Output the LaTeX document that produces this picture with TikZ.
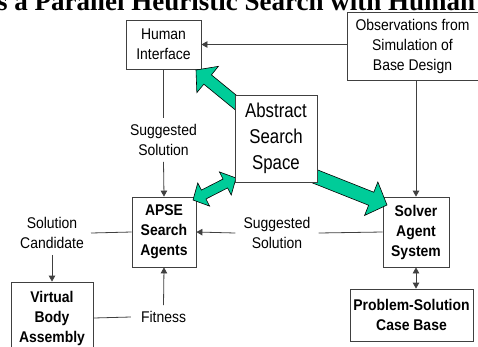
\documentclass[tikz,border=0pt]{standalone}
\usepackage{fontspec}
\setmainfont{Liberation Sans}[FakeStretch=0.9]
\newfontfamily\titlefont{Liberation Serif}
\newfontfamily\bigfont{Liberation Sans}[FakeStretch=0.84]
\usetikzlibrary{calc,arrows.meta}
\definecolor{gfill}{RGB}{0,204,153}
\definecolor{lnc}{RGB}{64,64,64}
\newcommand\greenarrow[5]{%
  \coordinate (#1-h) at ($(#2)!#5!(#1)$);
  \path[garrow] ($(#1)!#3!90:(#2)$) -- ($(#1-h)!#3!90:(#2)$) -- ($(#1-h)!#4!90:(#2)$) -- (#2)
    -- ($(#1-h)!#4!-90:(#2)$) -- ($(#1-h)!#3!-90:(#2)$) -- ($(#1)!#3!-90:(#2)$) -- cycle;}
\newcommand\greendouble[5]{%
  \coordinate (#1-h) at ($(#1)!#5!(#2)$);
  \coordinate (#2-h) at ($(#2)!#5!(#1)$);
  \path[garrow] (#1) -- ($(#1-h)!#4!90:(#2)$) -- ($(#1-h)!#3!90:(#2)$) -- ($(#2-h)!#3!-90:(#1)$)
    -- ($(#2-h)!#4!-90:(#1)$) -- (#2) -- ($(#2-h)!#4!90:(#1)$) -- ($(#2-h)!#3!90:(#1)$)
    -- ($(#1-h)!#3!-90:(#2)$) -- ($(#1-h)!#4!-90:(#2)$) -- cycle;}
\begin{document}
\begin{tikzpicture}[x=1pt,y=-1pt,
  box/.style={draw=lnc, line width=0.8pt, fill=white, align=center, inner sep=0pt,
    font=\fontsize{15.5}{20}\selectfont},
  bbox/.style={box, font=\fontsize{15.5}{20}\selectfont\bfseries},
  lbl/.style={align=center, inner sep=6pt, font=\fontsize{15.5}{20}\selectfont},
  conn/.style={draw=lnc, line width=0.8pt},
  arr/.style={conn, -{Triangle[length=6pt,width=6.5pt]}},
  darr/.style={conn, {Triangle[length=6pt,width=6.5pt]}-{Triangle[length=6pt,width=6.5pt]}},
  garrow/.style={fill=gfill, draw=black, line width=0.6pt, line join=miter}]
\fill[white] (0,0) rectangle (478,346);
\useasboundingbox (0,0) rectangle (478,346);
\clip (0,0) rectangle (478,346);

\node[anchor=base west, inner sep=0pt, font=\titlefont\bfseries\fontsize{27}{30}\selectfont] (title) at (-3,10.5) {s a Parallel Heuristic Search with Human};

\node[box, minimum width=75pt, minimum height=49pt] (hi) at (163.5,44.5) {Human\\Interface};
\node[box, minimum width=131pt, minimum height=68pt] (obs) at (412.5,46) {Observations from\\Simulation of\\Base Design};
\node[bbox, minimum width=64pt, minimum height=70pt] (apse) at (164,232) {APSE\\Search\\Agents};
\node[bbox, minimum width=66pt, minimum height=70pt] (solver) at (416,232) {Solver\\Agent\\System};
\node[bbox, minimum width=123pt, minimum height=52pt] (pscb) at (411.5,315) {Problem-Solution\\Case Base};
\node[bbox, minimum width=82pt, minimum height=72pt] (vba) at (52,318) {Virtual\\Body\\Assembly};

\node[lbl] (l1) at (163.5,140) {Suggested\\Solution};
\node[lbl, inner xsep=8pt] (l2) at (277,233) {Suggested\\Solution};
\node[lbl, inner xsep=7pt] (l3) at (52,233) {Solution\\Candidate};
\node[lbl, inner xsep=10pt] (l4) at (163.5,317) {Fitness};

\draw[arr] (obs.west |- hi.east) -- (hi.east);
\draw[conn] (hi.south) -- (l1.north);
\draw[arr] (l1.south) -- (apse.north);
\draw[arr] (obs.south -| solver.north) -- (solver.north);
\draw[conn] (solver.west) -- (l2.east);
\draw[arr] (l2.west) -- (apse.east);
\draw[conn] (l3.east) -- (apse.west);
\draw[arr] (l3.south -| vba.north) -- (vba.north);
\draw[conn] (vba.east) -- (l4.west);
\draw[arr] (l4.north) -- (apse.south);
\draw[darr] (solver.south) -- (solver.south |- pscb.north);

\coordinate (g1a) at (240,106);
\coordinate (g1b) at (196,70);
\coordinate (g2a) at (193,200);
\coordinate (g2b) at (236,178);
\coordinate (g3a) at (314,176);
\coordinate (g3b) at (387,205);
\greenarrow{g1a}{g1b}{6pt}{17pt}{15pt}
\greendouble{g2a}{g2b}{5pt}{13pt}{12pt}
\greenarrow{g3a}{g3b}{7pt}{18pt}{17pt}

\node[box, minimum width=82pt, minimum height=87pt, font=\bigfont\fontsize{20}{26}\selectfont] (ass) at (276,138.5) {Abstract\\Search\\Space};
\end{tikzpicture}
\end{document}
